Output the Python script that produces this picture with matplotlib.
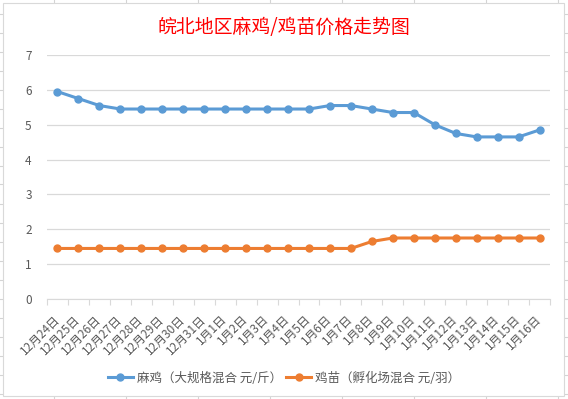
import matplotlib
matplotlib.use("Agg")
import matplotlib.pyplot as plt
from matplotlib.lines import Line2D
from matplotlib.patches import Rectangle

plt.rcParams["font.family"] = ["Noto Sans CJK SC", "DejaVu Sans"]

# data
dates = ["12月24日", "12月25日", "12月26日", "12月27日", "12月28日", "12月29日",
         "12月30日", "12月31日", "1月1日", "1月2日", "1月3日", "1月4日",
         "1月5日", "1月6日", "1月7日", "1月8日", "1月9日", "1月10日",
         "1月11日", "1月12日", "1月13日", "1月14日", "1月15日", "1月16日"]
maji = [5.95, 5.75, 5.55, 5.45, 5.45, 5.45, 5.45, 5.45, 5.45, 5.45, 5.45, 5.45,
        5.45, 5.55, 5.55, 5.45, 5.35, 5.35, 5.0, 4.75, 4.65, 4.65, 4.65, 4.85]
jimiao = [1.45, 1.45, 1.45, 1.45, 1.45, 1.45, 1.45, 1.45, 1.45, 1.45, 1.45, 1.45,
          1.45, 1.45, 1.45, 1.65, 1.75, 1.75, 1.75, 1.75, 1.75, 1.75, 1.75, 1.75]
yticks = [0, 1, 2, 3, 4, 5, 6, 7]

title = "皖北地区麻鸡/鸡苗价格走势图"
label_maji = "麻鸡（大规格混合 元/斤）"
label_jimiao = "鸡苗（孵化场混合 元/羽）"

W, H = 568, 399
fig = plt.figure(figsize=(W / 100, H / 100), dpi=100)

def px(x, y):
    return x / W, 1 - y / H

# spreadsheet cells showing around the chart box
cell = "#d4d4d4"
cx = 54.0
while cx < W:
    fig.add_artist(Line2D([cx / W] * 2, [0, 1], color=cell, lw=0.8, zorder=-3))
    cx += 72
cy = 13.5
while cy < H:
    fig.add_artist(Line2D([0, 1], [1 - cy / H] * 2, color=cell, lw=0.8, zorder=-3))
    cy += 19

x0, y0 = px(3, 396)
x1, y1 = px(564, 3)
fig.add_artist(Rectangle((x0, y0), x1 - x0, y1 - y0, facecolor="white",
                         edgecolor="#d9d9d9", lw=0.8, transform=fig.transFigure,
                         zorder=-2))

ax = fig.add_axes([47 / W, 1 - 299 / H, 503 / W, 244 / H])
ax.set_facecolor("none")

xs = list(range(len(dates)))
ax.plot(xs, maji, color="#5b9bd5", lw=2.2, marker="o", ms=5, label=label_maji)
ax.plot(xs, jimiao, color="#ed7d31", lw=2.2, marker="o", ms=5, label=label_jimiao)

ax.set_xlim(-0.5, len(dates) - 0.5)
ax.set_ylim(0, 7)
ax.set_yticks(yticks)
ax.yaxis.grid(True, color="#d9d9d9", lw=0.9)
ax.set_axisbelow(True)
for s in ["top", "right", "left"]:
    ax.spines[s].set_visible(False)
ax.spines["bottom"].set_color("#d9d9d9")
ax.tick_params(axis="y", length=0, pad=11, labelsize=8.5, labelcolor="#595959")

# category boundaries carry the tick marks, labels sit at the centres
ax.set_xticks([i - 0.5 for i in range(len(dates) + 1)])
ax.set_xticklabels([])
ax.tick_params(axis="x", which="major", length=4, color="#d9d9d9")
ax.set_xticks(xs, minor=True)
ax.set_xticklabels(dates, minor=True, rotation=45, ha="right", va="center",
                   rotation_mode="anchor", fontsize=8.5, color="#595959")
ax.tick_params(axis="x", which="minor", length=0, pad=13)

fig.text(0.5, 1 - 27 / H, title, color="red", fontsize=13.6,
         ha="center", va="center")

fig.legend(loc="center", bbox_to_anchor=(0.5, 1 - 378 / H), ncol=2, frameon=False,
           fontsize=9, labelcolor="#595959", handlelength=2.0, columnspacing=0.35,
           handletextpad=0.3)

fig.savefig("out.png", dpi=100)
